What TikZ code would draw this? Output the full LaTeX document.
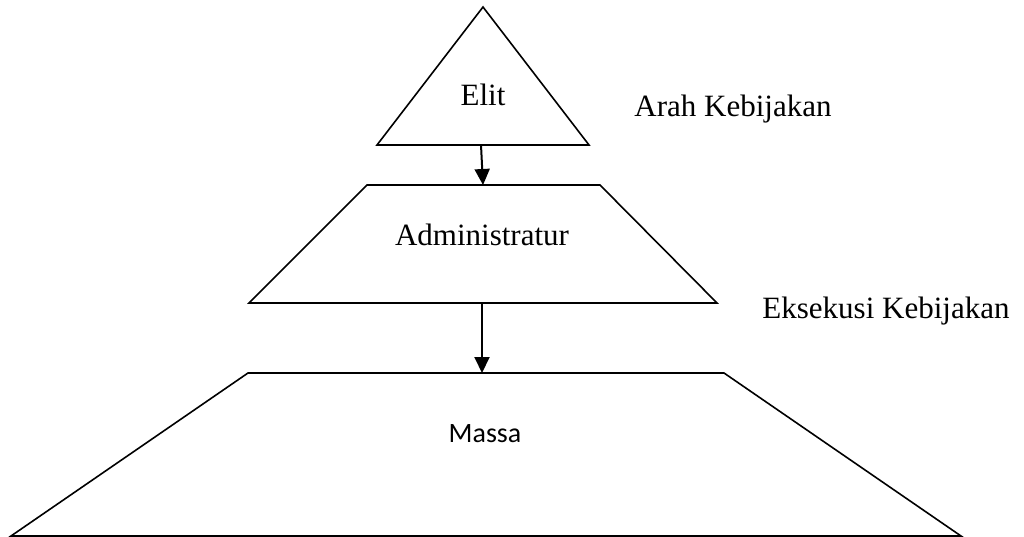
\documentclass[tikz,border=0pt]{standalone}
\usepackage{fontspec}
\setmainfont{Liberation Serif}
\newfontfamily\calfont{Carlito}
\usetikzlibrary{arrows.meta}
\begin{document}
\begin{tikzpicture}[x=1pt,y=-1pt,
  shapeline/.style={draw=black,line width=1.6pt,line join=miter},
  flow/.style={draw=black,line width=2pt,-{Triangle[length=16pt,width=15pt]}},
  lbl/.style={anchor=base,inner sep=0pt,font=\fontsize{31}{37}\selectfont},
  lblsans/.style={anchor=base,inner sep=0pt,font=\calfont\fontsize{28}{34}\selectfont}]
\useasboundingbox (0,0) rectangle (1024,537);
% triangle
\coordinate (t1) at (483,7);
\coordinate (t2) at (589,145);
\coordinate (t3) at (377,145);
\draw[shapeline] (t1) -- (t2) -- (t3) -- cycle;
% trapezoid 1
\coordinate (a1) at (367,185);
\coordinate (a2) at (600,185);
\coordinate (a3) at (717,303);
\coordinate (a4) at (249,303);
\draw[shapeline] (a1) -- (a2) -- (a3) -- (a4) -- cycle;
% trapezoid 2
\coordinate (b1) at (248,373);
\coordinate (b2) at (724,373);
\coordinate (b3) at (961,536);
\coordinate (b4) at (11,536);
\draw[shapeline] (b1) -- (b2) -- (b3) -- (b4) -- cycle;
% connector points
\coordinate (elitbase) at (481,145);
\coordinate (admtop) at (483,185);
\coordinate (admbase) at (482,303);
\coordinate (massatop) at (482,373);
\draw[flow] (elitbase) -- (admtop);
\draw[flow] (admbase) -- (massatop);
% labels
\node[lbl] (elit) at (483,106) {Elit};
\node[lbl] (adm) at (482,245) {Administratur};
\node[lblsans] (massa) at (485,442) {Massa};
\node[lbl] (arah) at (733,117) {Arah Kebijakan};
\node[lbl] (eks) at (886,318) {Eksekusi Kebijakan};
\end{tikzpicture}
\end{document}
